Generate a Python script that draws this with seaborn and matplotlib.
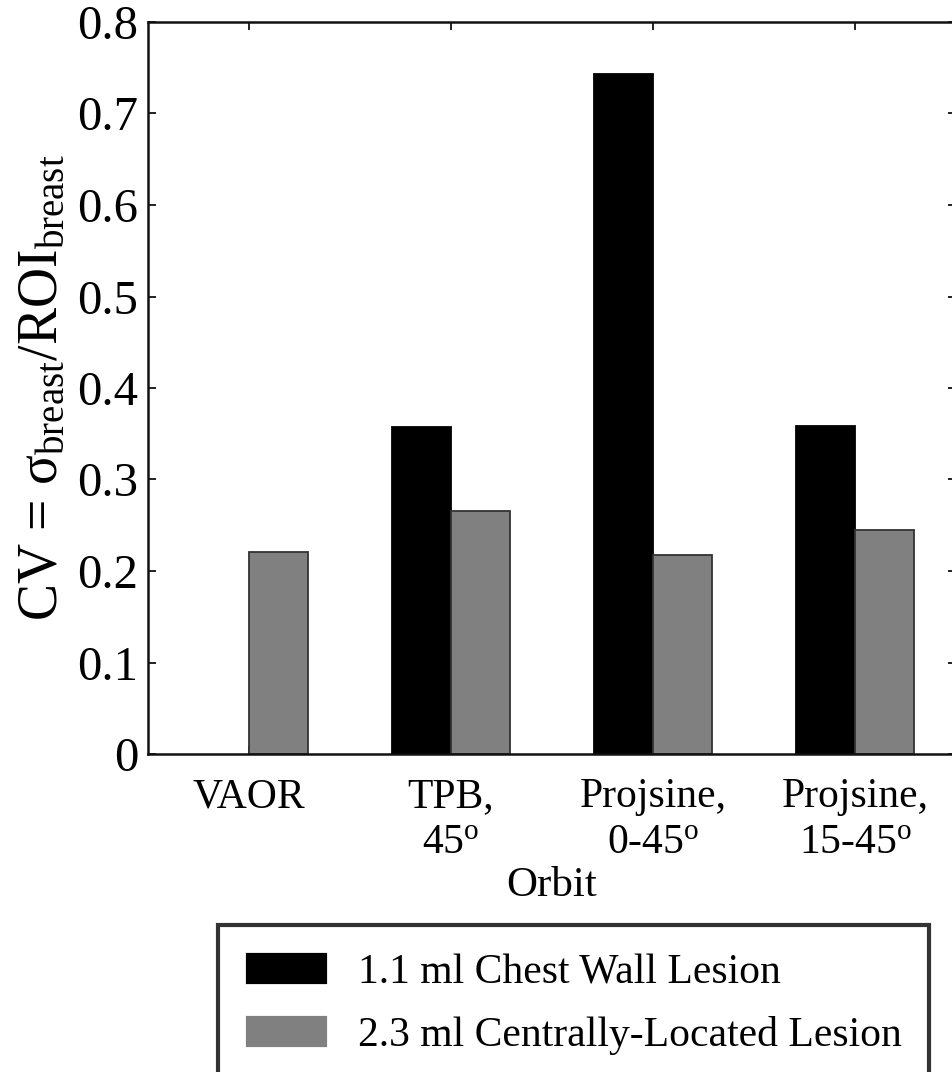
import numpy as np
import pandas as pd
import matplotlib
matplotlib.use("Agg")
import matplotlib.pyplot as plt
import seaborn as sns

# --- data ---
orbits = ["VAOR", "TPB,\n45$^{\\rm o}$", "Projsine,\n0-45$^{\\rm o}$", "Projsine,\n15-45$^{\\rm o}$"]
series = ["1.1 ml Chest Wall Lesion", "2.3 ml Centrally-Located Lesion"]
chest_wall = [np.nan, 0.357, 0.743, 0.358]
central = [0.221, 0.266, 0.217, 0.245]
colors = ["#000000", "#808080"]
edges = ["#000000", "#333333"]

df = pd.DataFrame({
    "Orbit": orbits * 2,
    "Lesion": [series[0]] * 4 + [series[1]] * 4,
    "CV": chest_wall + central,
})

sns.set_style("ticks")
plt.rcParams["font.family"] = ["Liberation Serif", "DejaVu Serif"]
plt.rcParams["mathtext.fontset"] = "custom"
plt.rcParams["mathtext.rm"] = "Liberation Serif"
plt.rcParams["mathtext.it"] = "Liberation Serif:italic"
plt.rcParams["text.color"] = "black"
plt.rcParams["axes.labelcolor"] = "black"

fig = plt.figure(figsize=(9.53, 10.72), dpi=100)
ax = fig.add_axes([148 / 953, 1 - 754 / 1072, 808 / 953, 732 / 1072])

sns.barplot(data=df, x="Orbit", y="CV", hue="Lesion", order=orbits,
            hue_order=series, palette=colors, width=0.58,
            errorbar=None, ax=ax, linewidth=1.3, saturation=1)

# edge colours per series
for cont, ec in zip(ax.containers, edges):
    for p in cont:
        p.set_edgecolor(ec)

ax.set_xlim(-0.5, 3.5)
ax.set_ylim(0, 0.8)
ax.set_yticks(np.arange(0, 0.81, 0.1))
ax.set_yticklabels(["0", "0.1", "0.2", "0.3", "0.4", "0.5", "0.6", "0.7", "0.8"])
ax.tick_params(direction="in", length=6, width=1.3, top=True, right=True,
               colors="#111111", labelcolor="black")
ax.tick_params(axis="y", labelsize=35, pad=7)
ax.tick_params(axis="x", labelsize=30, pad=17)
for t in ax.get_xticklabels():
    t.set_linespacing(1.25)
for s in ax.spines.values():
    s.set_visible(True)
    s.set_linewidth(1.8)
    s.set_color("#111111")

ax.set_xlabel("Orbit", fontsize=31, labelpad=3)
ax.set_ylabel("CV = σ$_{\\rm breast}$/ROI$_{\\rm breast}$", fontsize=40, labelpad=6)

handles, labels = ax.get_legend_handles_labels()
ax.get_legend().remove()
leg = fig.legend(handles, labels, loc="upper left",
                 bbox_to_anchor=(218 / 953, 1 - 925 / 1072),
                 fontsize=30, frameon=True, fancybox=False,
                 handlelength=2.0, handleheight=0.85, handletextpad=0.7,
                 labelspacing=0.55, borderpad=0.65, borderaxespad=0)
leg.get_frame().set_edgecolor("black")
leg.get_frame().set_linewidth(3)

fig.savefig("out.png", dpi=100)
